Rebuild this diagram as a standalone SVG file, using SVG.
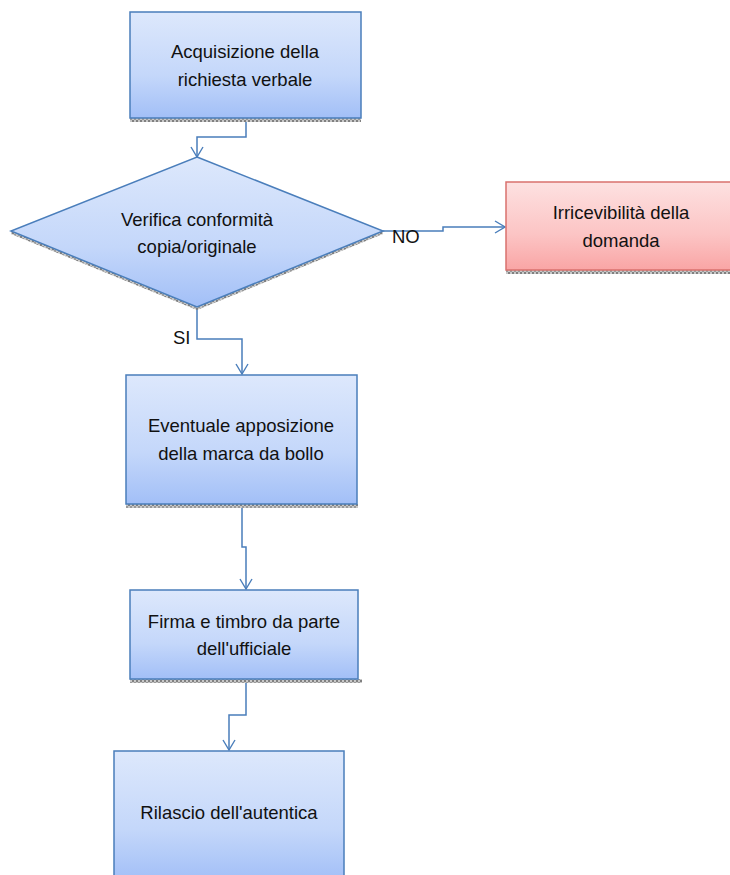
<svg xmlns="http://www.w3.org/2000/svg" width="730" height="875" viewBox="0 0 730 875">
<defs>
<linearGradient id="gb" x1="0" y1="0" x2="0" y2="1">
<stop offset="0" stop-color="#dde8fc"/>
<stop offset="0.6" stop-color="#c4d7fa"/>
<stop offset="1" stop-color="#a2bff7"/>
</linearGradient>
<linearGradient id="gr" x1="0" y1="0" x2="0" y2="1">
<stop offset="0" stop-color="#fde1e1"/>
<stop offset="0.6" stop-color="#fcc4c4"/>
<stop offset="1" stop-color="#f9a5a5"/>
</linearGradient>
<pattern id="sh" width="4" height="4" patternUnits="userSpaceOnUse">
<rect width="4" height="4" fill="#c8c8c8"/>
<rect width="2" height="2" fill="#808080"/>
<rect x="2" y="2" width="2" height="2" fill="#9a9a9a"/>
</pattern>
<marker id="ar" markerWidth="12" markerHeight="14" refX="11" refY="7" orient="auto" markerUnits="userSpaceOnUse">
<path d="M1,1 L11,7 L1,13" fill="none" stroke="#4a7ebb" stroke-width="1.4"/>
</marker>
</defs>
<style>
.b{fill:url(#gb);stroke:#4a7ebb;stroke-width:1.5}
.r{fill:url(#gr);stroke:#d9716e;stroke-width:1.5}
.s{fill:url(#sh)}
.t{font-family:"Liberation Sans",Arial,sans-serif;font-size:18.5px;fill:#111;text-anchor:middle}
.l{font-family:"Liberation Sans",Arial,sans-serif;font-size:18.5px;fill:#111}
.c{fill:none;stroke:#4a7ebb;stroke-width:1.5;marker-end:url(#ar)}
</style>
<g id="connectors">
<path class="c" d="M246,119 V137 H197 V157"/>
<path class="c" d="M383,231 H443 V227 H505"/>
<path class="c" d="M197,307 V339 H242 V374"/>
<path class="c" d="M242,505 V547 H246 V589"/>
<path class="c" d="M246,680 V715 H229 V750"/>
<text class="l" x="392" y="243">NO</text>
<text class="l" x="173" y="344">SI</text>
</g>
<g id="n1">
<rect class="s" x="130" y="118" width="231" height="4"/>
<rect class="b" x="130" y="12" width="231" height="106"/>
<text class="t" x="245" y="58">Acquisizione della</text>
<text class="t" x="245" y="86">richiesta verbale</text>
</g>
<g id="n2">
<polygon class="s" points="11,231 197,307 383,231 383,234 197,310 11,234"/>
<polygon class="b" points="197,157 383,231 197,307 11,231"/>
<text class="t" x="197" y="226">Verifica conformità</text>
<text class="t" x="197" y="253">copia/originale</text>
</g>
<g id="n3">
<rect class="s" x="506" y="270" width="226" height="4"/>
<rect class="r" x="506" y="182" width="230" height="88"/>
<text class="t" x="621" y="219">Irricevibilità della</text>
<text class="t" x="621" y="247">domanda</text>
</g>
<g id="n4">
<rect class="s" x="126" y="504" width="232" height="4"/>
<rect class="b" x="126" y="375" width="231" height="129"/>
<text class="t" x="241" y="432">Eventuale apposizione</text>
<text class="t" x="241" y="460">della marca da bollo</text>
</g>
<g id="n5">
<rect class="s" x="130" y="679" width="232" height="4"/>
<rect class="b" x="130" y="590" width="228" height="89"/>
<text class="t" x="244" y="628">Firma e timbro da parte</text>
<text class="t" x="244" y="655">dell'ufficiale</text>
</g>
<g id="n6">
<rect class="b" x="114" y="751" width="230" height="130"/>
<text class="t" x="229" y="819">Rilascio dell'autentica</text>
</g>
</svg>
